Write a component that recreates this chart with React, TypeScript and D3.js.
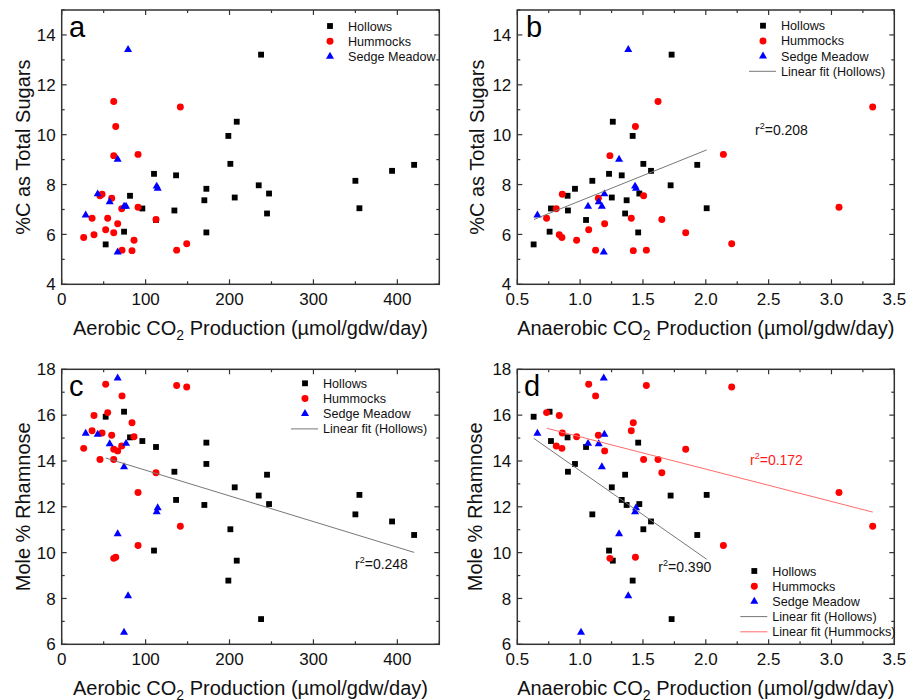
import React from "react";
import * as d3 from "d3";

// ---- data (one entry per soil core) ----
const hollowsAerobic = [52.4, 74.3, 96.1, 81.4, 134.3, 172.4, 350, 112.4, 110, 206.2, 208.6, 136.3, 244.7, 170, 198.6, 172.4, 247.1, 201, 393.7, 234.8, 237.6, 420, 354.8];
const hollowsAnaerobic = [0.63, 0.757, 0.768, 0.9, 0.903, 0.959, 1.097, 1.047, 1.23, 1.252, 1.26, 1.331, 1.358, 1.37, 1.418, 1.462, 1.471, 1.503, 1.564, 1.72, 1.728, 1.932, 2.007];
const hollowsSugars = [5.6, 6.11, 7.04, 7.55, 6.96, 7.83, 8.15, 6.58, 8.43, 7.48, 10.52, 8.37, 6.84, 7.37, 9.95, 6.08, 7.64, 8.83, 8.55, 7.97, 13.21, 8.79, 7.05];
const hollowsRhamnose = [15.93, 16.15, 14.87, 15.03, 13.53, 13.87, 11.67, 14.61, 10.09, 12.85, 9.65, 12.3, 13.4, 12.08, 8.78, 14.8, 12.12, 11.02, 11.36, 12.49, 7.1, 10.77, 12.52];

const hummocksAerobic = [26.2, 36.2, 54.8, 38.5, 48.1, 52.4, 59.6, 62, 62, 62, 64.4, 66.7, 71.5, 71.9, 137, 83.8, 86.2, 91, 91, 112.4, 141.4, 149, 45.6];
const hummocksAnaerobic = [0.855, 1.407, 0.733, 0.834, 0.858, 1.068, 1.145, 1.62, 1.237, 1.84, 1.44, 1.195, 0.81, 1.123, 1.527, 1.423, 0.972, 2.14, 3.06, 1.65, 3.328, 2.206, 1.505];
const hummocksSugars = [5.88, 6.65, 6.65, 5.99, 7.61, 6.19, 7.45, 11.33, 9.16, 6.07, 10.33, 6.43, 7.03, 5.37, 5.37, 5.35, 5.77, 9.21, 7.09, 6.6, 11.11, 5.63, 7.55];
const hummocksRhamnose = [14.55, 15.32, 16.11, 15.98, 15.22, 17.35, 15.12, 14.06, 9.75, 14.51, 9.8, 14.44, 14.65, 16.84, 17.29, 15.67, 15.06, 10.31, 12.62, 13.49, 11.15, 17.23, 14.06];

const sedgeAerobic = [28.6, 42.9, 57.2, 66.7, 66.7, 74.3, 76.7, 79.1, 114.4, 113.2, 74.3];
const sedgeAnaerobic = [0.66, 1.193, 1.148, 1.31, 1.188, 1.173, 1.063, 1.383, 1.445, 1.437, 1.007];
const sedgeSugars: (number | null)[] = [6.77, 7.62, 7.3, 9.01, 5.29, 7.12, 7.12, 13.41, 7.84, 7.93, null];
const sedgeRhamnose = [15.2, 15.16, 14.74, 10.82, 17.61, 13.74, 14.76, 8.11, 11.95, 11.78, 6.52];

// linear fits as drawn: [x0, x1], [y0, y1]
const fitSugarsAnaerobicHollows = { x: [0.633, 2.007], y: [6.6, 9.39] };
const fitRhamAerobicHollows = { x: [52.4, 420], y: [14.13, 10.01] };
const fitRhamAnaerobicHollows = { x: [0.63, 2.007], y: [14.99, 9.71] };
const fitRhamAnaerobicHummocks = { x: [0.733, 3.328], y: [15.43, 11.77] };

const r2Labels = ["0.208", "0.248", "0.390", "0.172"];

const aerobicTicks = [0, 100, 200, 300, 400];
const anaerobicTicks = [0.5, 1.0, 1.5, 2.0, 2.5, 3.0, 3.5];
const sugarTicks = [4, 6, 8, 10, 12, 14];
const rhamnoseTicks = [6, 8, 10, 12, 14, 16, 18];

const FONT = "'Liberation Sans', Arial, Helvetica, sans-serif";
const FRAME = "#333";
const FIT_GREY = "#777";

const groups = [
  { name: "Hollows", color: "#000000", shape: d3.symbolSquare, size: 34 },
  { name: "Hummocks", color: "#ff0000", shape: d3.symbolCircle, size: 38 },
  { name: "Sedge Meadow", color: "#0000ff", shape: d3.symbolTriangle, size: 28 },
];

const seriesX = {
  aerobic: [hollowsAerobic, hummocksAerobic, sedgeAerobic],
  anaerobic: [hollowsAnaerobic, hummocksAnaerobic, sedgeAnaerobic],
};
const seriesY = {
  sugars: [hollowsSugars, hummocksSugars, sedgeSugars],
  rhamnose: [hollowsRhamnose, hummocksRhamnose, sedgeRhamnose],
};

type Fit = { x: number[]; y: number[]; color: string; label: string };

type PanelProps = {
  letter: string;
  letterX: number;
  left: number;
  right: number;
  top: number;
  bottom: number;
  xKind: "aerobic" | "anaerobic";
  yKind: "sugars" | "rhamnose";
  yTitleX: number;
  legendX: number;
  legendY: number;
  fits: Fit[];
  r2: { text: string; x: number; y: number; color: string }[];
};

function XTitle({ cx, y, kind }: { cx: number; y: number; kind: string }) {
  return (
    <text x={cx} y={y} textAnchor="middle" fontSize={20} fontFamily={FONT} fill="#111">
      {kind === "aerobic" ? "Aerobic CO" : "Anaerobic CO"}
      <tspan fontSize={14} dy={5}>2</tspan>
      <tspan dy={-5}> Production (µmol/gdw/day)</tspan>
    </text>
  );
}

function R2({ text, x, y, color }: { text: string; x: number; y: number; color: string }) {
  return (
    <text x={x} y={y} fontSize={14} fontFamily={FONT} fill={color}>
      r<tspan fontSize={9} dy={-6}>2</tspan>
      <tspan dy={6}>={text}</tspan>
    </text>
  );
}

function Panel(p: PanelProps) {
  const isAer = p.xKind === "aerobic";
  const xDomain = isAer ? [0, 450] : [0.5, 3.5];
  const yDomain = p.yKind === "sugars" ? [4, 15] : [6, 18];
  const x = d3.scaleLinear().domain(xDomain).range([p.left, p.right]);
  const y = d3.scaleLinear().domain(yDomain).range([p.bottom, p.top]);
  const xTicks = isAer ? aerobicTicks : anaerobicTicks;
  const yTicks = p.yKind === "sugars" ? sugarTicks : rhamnoseTicks;
  const xStep = isAer ? 50 : 0.25;
  const xMajorStep = isAer ? 100 : 0.5;
  const xAll = d3.range(xDomain[0], xDomain[1] + 1e-9, xStep);
  const yAll = d3.range(yDomain[0], yDomain[1] + 1e-9, 1);
  const isMajorX = (v: number) => Math.abs(v / xMajorStep - Math.round(v / xMajorStep)) < 1e-6;
  const isMajorY = (v: number) => v % 2 === 0;
  const fmt = isAer ? d3.format("d") : d3.format(".1f");
  const xs = seriesX[p.xKind];
  const ys = seriesY[p.yKind];

  const legendItems: { kind: "sym" | "line"; idx?: number; fit?: Fit; label: string }[] = [
    ...groups.map((g, i) => ({ kind: "sym" as const, idx: i, label: g.name })),
    ...p.fits.map((f) => ({ kind: "line" as const, fit: f, label: f.label })),
  ];

  return (
    <g>
      {/* points */}
      {groups.map((g, gi) => {
        const path = d3.symbol().type(g.shape).size(g.size)() as string;
        return (
          <g key={g.name}>
            {xs[gi].map((xv, i) => {
              const yv = ys[gi][i];
              if (xv == null || yv == null) return null;
              return (
                <path key={i} d={path} transform={`translate(${x(xv)},${y(yv)})`} fill={g.color} />
              );
            })}
          </g>
        );
      })}
      {/* fits */}
      {p.fits.map((f, i) => (
        <line key={i} x1={x(f.x[0])} y1={y(f.y[0])} x2={x(f.x[1])} y2={y(f.y[1])} stroke={f.color} strokeWidth={1} />
      ))}
      {/* frame */}
      <rect x={p.left} y={p.top} width={p.right - p.left} height={p.bottom - p.top} fill="none" stroke={FRAME} strokeWidth={1.5} />
      {xAll.map((v) => {
        const len = isMajorX(v) ? 5 : 3;
        return (
          <g key={"x" + v}>
            <line x1={x(v)} x2={x(v)} y1={p.bottom} y2={p.bottom - len} stroke={FRAME} strokeWidth={1.2} />
            <line x1={x(v)} x2={x(v)} y1={p.top} y2={p.top + len} stroke={FRAME} strokeWidth={1.2} />
          </g>
        );
      })}
      {yAll.map((v) => {
        const len = isMajorY(v) ? 5 : 3;
        return (
          <g key={"y" + v}>
            <line x1={p.left} x2={p.left + len} y1={y(v)} y2={y(v)} stroke={FRAME} strokeWidth={1.2} />
            <line x1={p.right} x2={p.right - len} y1={y(v)} y2={y(v)} stroke={FRAME} strokeWidth={1.2} />
          </g>
        );
      })}
      {xTicks.map((v) => (
        <text key={"xl" + v} x={x(v)} y={p.bottom + 20.5} textAnchor="middle" fontSize={17} fontFamily={FONT} fill="#111">
          {fmt(v)}
        </text>
      ))}
      {yTicks.map((v) => (
        <text key={"yl" + v} x={p.left - 6} y={y(v)} dy="0.36em" textAnchor="end" fontSize={17} fontFamily={FONT} fill="#111">
          {v}
        </text>
      ))}
      <XTitle cx={(p.left + p.right) / 2} y={p.bottom + 51} kind={p.xKind} />
      <text
        transform={`translate(${p.yTitleX},${(p.top + p.bottom) / 2}) rotate(-90)`}
        textAnchor="middle"
        fontSize={20}
        fontFamily={FONT}
        fill="#111"
      >
        {p.yKind === "sugars" ? "%C as Total Sugars" : "Mole % Rhamnose"}
      </text>
      <text x={p.letterX} y={p.top + 26.5} fontSize={29} fontFamily={FONT} fill="#000">
        {p.letter}
      </text>
      {/* legend */}
      {legendItems.map((it, i) => {
        const cy = p.legendY + i * 15.2;
        return (
          <g key={"lg" + i}>
            {it.kind === "sym" ? (
              <path
                d={d3.symbol().type(groups[it.idx!].shape).size(groups[it.idx!].size)() as string}
                transform={`translate(${p.legendX},${cy})`}
                fill={groups[it.idx!].color}
              />
            ) : (
              <line x1={p.legendX - 14} x2={p.legendX + 13} y1={cy} y2={cy} stroke={it.fit!.color} strokeWidth={1} />
            )}
            <text x={p.legendX + 18} y={cy + 4.5} fontSize={12.6} fontFamily={FONT} fill="#111">
              {it.label}
            </text>
          </g>
        );
      })}
      {p.r2.map((r, i) => (
        <R2 key={"r" + i} {...r} />
      ))}
    </g>
  );
}

export default function App() {
  const leftL = 61.7, rightL = 439.3, leftR = 517.3, rightR = 894.3;
  const topT = 10, bottomT = 284.3, topB = 369.3, bottomB = 644.3;
  return (
    <svg
      width={918}
      height={700}
      viewBox="0 0 918 700"
      style={{ position: "absolute", left: 0, top: 0, background: "#fff" }}
    >
      <rect width={918} height={700} fill="#fff" />
      <Panel
        letter="a" letterX={69} left={leftL} right={rightL} top={topT} bottom={bottomT}
        xKind="aerobic" yKind="sugars" yTitleX={30} legendX={330} legendY={26}
        fits={[]} r2={[]}
      />
      <Panel
        letter="b" letterX={526} left={leftR} right={rightR} top={topT} bottom={bottomT}
        xKind="anaerobic" yKind="sugars" yTitleX={484} legendX={763} legendY={25.7}
        fits={[{ ...fitSugarsAnaerobicHollows, color: FIT_GREY, label: "Linear fit (Hollows)" }]}
        r2={[{ text: r2Labels[0], x: 755, y: 135, color: "#111" }]}
      />
      <Panel
        letter="c" letterX={69} left={leftL} right={rightL} top={topB} bottom={bottomB}
        xKind="aerobic" yKind="rhamnose" yTitleX={30} legendX={305} legendY={383.3}
        fits={[{ ...fitRhamAerobicHollows, color: FIT_GREY, label: "Linear fit (Hollows)" }]}
        r2={[{ text: r2Labels[1], x: 355, y: 569.3, color: "#111" }]}
      />
      <Panel
        letter="d" letterX={524} left={leftR} right={rightR} top={topB} bottom={bottomB}
        xKind="anaerobic" yKind="rhamnose" yTitleX={482} legendX={754.3} legendY={571}
        fits={[
          { ...fitRhamAnaerobicHollows, color: FIT_GREY, label: "Linear fit (Hollows)" },
          { ...fitRhamAnaerobicHummocks, color: "#ff6b6b", label: "Linear fit (Hummocks)" },
        ]}
        r2={[
          { text: r2Labels[2], x: 658.3, y: 571.7, color: "#111" },
          { text: r2Labels[3], x: 750, y: 465, color: "#ff1a1a" },
        ]}
      />
    </svg>
  );
}
